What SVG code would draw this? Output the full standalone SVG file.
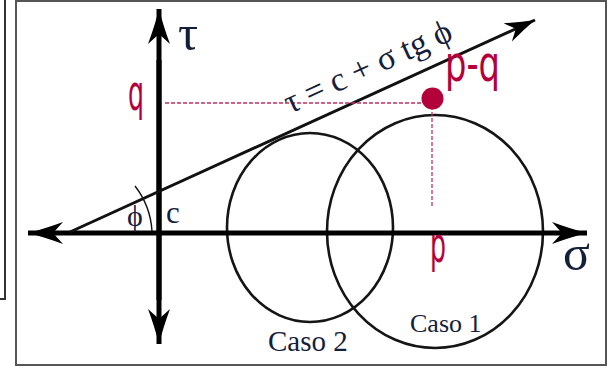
<svg xmlns="http://www.w3.org/2000/svg" width="608" height="366" viewBox="0 0 608 366">
<defs>
<style>
.frame{fill:none;stroke:#555;stroke-width:2}
.axis{stroke:#000;stroke-width:5;fill:none}
.fail{stroke:#111;stroke-width:3;fill:none}
.circ{fill:none;stroke:#151515;stroke-width:2.6}
.dash{stroke:#c03060;stroke-width:1.3;stroke-dasharray:4 2;fill:none}
.serif{font-family:"Liberation Serif","Times New Roman",serif;fill:#14203a}
.red{font-family:"DejaVu Sans",sans-serif;fill:#b4003a}
</style>
<marker id="ah" viewBox="-36 -12 38 24" refX="0" refY="0" markerWidth="38" markerHeight="24" markerUnits="userSpaceOnUse" orient="auto">
<path d="M0,0 Q-16,-4 -35,-11 L-25,0 L-35,11 Q-16,4 0,0 Z" fill="#000"/>
</marker>
<marker id="ah2" viewBox="-32 -11 34 22" refX="0" refY="0" markerWidth="34" markerHeight="22" markerUnits="userSpaceOnUse" orient="auto">
<path d="M0,0 Q-14,-4 -30,-10 L-21,0 L-30,10 Q-14,4 0,0 Z" fill="#000"/>
</marker>
</defs>
<rect width="608" height="366" fill="#fff"/>
<path d="M5,0 V299 H0" fill="none" stroke="#333" stroke-width="2"/>
<rect class="frame" x="16" y="1" width="590" height="364"/>

<g id="circles">
<ellipse id="caso2" class="circ" cx="310" cy="227.5" rx="83" ry="94.5"/>
<ellipse id="caso1" class="circ" cx="435" cy="231.5" rx="108" ry="116.5"/>
</g>

<g id="connectors">
<line class="axis" x1="159" y1="300" x2="159" y2="9" marker-end="url(#ah)"/>
<line class="axis" x1="159" y1="60" x2="159" y2="344" marker-end="url(#ah)"/>
<line class="axis" x1="300" y1="233" x2="28" y2="233" marker-end="url(#ah)"/>
<line class="axis" x1="300" y1="233" x2="587" y2="233" marker-end="url(#ah)"/>
<line class="fail" x1="70" y1="232" x2="535" y2="20" marker-end="url(#ah2)"/>
<path d="M152,231 A82,82 0 0 0 135,186" fill="none" stroke="#111" stroke-width="1.4"/>
<line class="dash" x1="165" y1="103" x2="430" y2="103"/>
<line class="dash" x1="432" y1="100" x2="432" y2="208"/>
</g>

<g id="point">
<circle cx="432.5" cy="98.5" r="11" fill="#b4003a"/>
</g>

<g id="labels">
<text class="serif" x="178" y="50" font-size="50">τ</text>
<text class="serif" x="563" y="270" font-size="50">σ</text>
<text class="serif" x="166" y="223" font-size="31">c</text>
<text class="serif" x="127" y="226" font-size="30">ϕ</text>
<text class="serif" x="290" y="114" font-size="34" transform="rotate(-24.5 290 114)">τ = c + σ tg ϕ</text>
<text class="serif" x="268" y="351" font-size="29">Caso 2</text>
<text class="serif" x="410" y="332" font-size="26">Caso 1</text>
<text class="red" x="128" y="110" font-size="50" textLength="16" lengthAdjust="spacingAndGlyphs">q</text>
<text class="red" x="445" y="81" font-size="50" textLength="55" lengthAdjust="spacingAndGlyphs">p-q</text>
<text class="red" x="430" y="262" font-size="50" textLength="16" lengthAdjust="spacingAndGlyphs">p</text>
</g>
</svg>
